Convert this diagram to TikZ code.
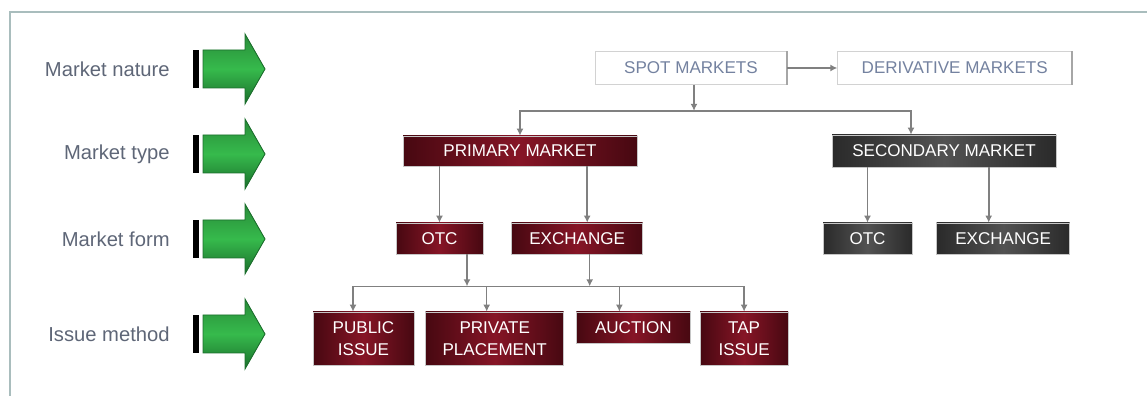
\documentclass[tikz,border=0pt]{standalone}
\usepackage{fontspec}
\setmainfont{Liberation Sans}
\usepackage{xcolor}
\usetikzlibrary{arrows.meta,positioning,calc}
\definecolor{mktred}{HTML}{470811}
\definecolor{mktredmid}{HTML}{861526}
\definecolor{mktgray}{HTML}{2A2A2A}
\definecolor{mktgraymid}{HTML}{525252}
\definecolor{labtxt}{HTML}{5E6677}
\definecolor{nattxt}{HTML}{7482A0}
\definecolor{linegray}{HTML}{808080}
\definecolor{framecol}{HTML}{A9BDBD}
\definecolor{arrgreen}{HTML}{36BA4C}
\definecolor{arrdark}{HTML}{1B6E2C}

\begin{document}
\begin{tikzpicture}[node distance=0.24cm]
        \tikzstyle{lab}=[anchor=east,inner sep=0pt,font=\fontsize{11.5}{13}\selectfont,text=labtxt]
        \tikzstyle{natbox}=[draw=gray!35,fill=white,inner sep=0pt,minimum height=0.66cm,font=\fontsize{9.7}{11}\selectfont,text=nattxt]
        \tikzstyle{pbox}=[draw=gray!45,left color=mktred,right color=mktred,middle color=mktredmid,inner sep=0pt,minimum height=0.62cm,align=center,font=\fontsize{9.7}{12.5}\selectfont,text=white]
        \tikzstyle{sbox}=[draw=gray!45,left color=mktgray,right color=mktgray,middle color=mktgraymid,inner sep=0pt,minimum height=0.62cm,align=center,font=\fontsize{9.7}{12.5}\selectfont,text=white]
        \tikzstyle{link}=[draw=linegray,line width=0.9pt]
        \tikzstyle{feed}=[link,-{Latex[length=1.4mm,width=1.4mm]}]
        \useasboundingbox (0,0) rectangle (22.94,-7.92);
        \draw[framecol,line width=0.8pt] (0.2,-7.92) -- (0.2,-0.24) -- (22.94,-0.24);
        % row labels
        \node[lab] (lnature) at (3.4,-1.38) {Market nature};
        \node[lab] (ltype) at (3.4,-3.08) {Market type};
        \node[lab] (lform) at (3.4,-4.78) {Market form};
        \node[lab] (lissue) at (3.4,-6.68) {Issue method};
        \foreach \n in {lnature,ltype,lform,lissue} {
          \coordinate (a) at ($(\n.east)+(0.46,0)$);
          \fill[black] ($(a)+(0,0.38)$) rectangle ($(a)+(0.12,-0.38)$);
          \draw[arrdark,line width=0.5pt,top color=arrgreen!75!black,bottom color=arrdark,middle color=arrgreen]
            ($(a)+(0.2,0.38)$) -- ++(0.84,0) -- ++(0,0.32) -- ++(0.4,-0.7) -- ++(-0.4,-0.7) -- ++(0,0.32) -- ++(-0.84,0) -- cycle;
        }
        % market nature
        \node[natbox,minimum width=3.84cm] (spot) at (13.82,-1.36) {SPOT MARKETS};
        \node[natbox,minimum width=4.68cm,right=1.0cm of spot] (deriv) {DERIVATIVE MARKETS};
        \draw[gray!70,line width=1pt] (spot.north east) -- (spot.south east);
        \draw[gray!70,line width=1pt] (deriv.north east) -- (deriv.south east);
        % market type
        \node[pbox,minimum width=4.68cm,minimum height=0.6cm] (prim) at (10.4,-3.02) {PRIMARY MARKET};
        \node[sbox,minimum width=4.48cm,minimum height=0.64cm] (sec) at (18.88,-3.02) {SECONDARY MARKET};
        % market form
        \node[pbox,minimum width=1.74cm] (otc1) at (8.79,-4.77) {OTC};
        \node[pbox,minimum width=2.62cm,right=0.56cm of otc1] (exch1) {EXCHANGE};
        \node[sbox,minimum width=1.78cm] (otc2) at (17.35,-4.77) {OTC};
        \node[sbox,minimum width=2.66cm,right=0.48cm of otc2] (exch2) {EXCHANGE};
        % issue method
        \node[pbox,minimum width=2.02cm,minimum height=1.06cm] (public) at (7.27,-6.77) {PUBLIC\\ISSUE};
        \node[pbox,minimum width=2.76cm,minimum height=1.06cm,right=0.22cm of public] (private) {PRIVATE\\PLACEMENT};
        \node[pbox,minimum width=2.28cm,right=0.24cm of private.north east,anchor=north west] (auction) {AUCTION};
        \node[pbox,minimum width=1.76cm,minimum height=1.06cm,right=0.18cm of auction.north east,anchor=north west] (tap) {TAP\\ISSUE};
        % connectors
        \draw[feed] (spot) -- (deriv);
        \coordinate (sj) at ($(spot.south)+(0.06,-0.52)$);
        \draw[feed] (sj |- spot.south) -- (sj);
        \draw[feed] (sj) -| (prim.north);
        \draw[feed] (sj) -| ([xshift=-0.66cm]sec.north);
        \draw[feed] (otc1.north |- prim.south) -- (otc1.north);
        \draw[feed] ([xshift=0.2cm]exch1.north |- prim.south) -- ([xshift=0.2cm]exch1.north);
        \draw[feed] (otc2.north |- sec.south) -- (otc2.north);
        \draw[feed] ([xshift=-0.29cm]exch2.north |- sec.south) -- ([xshift=-0.29cm]exch2.north);
        \coordinate (bus) at ($(otc1.south)+(0,-0.64)$);
        \draw[feed] ([xshift=0.55cm]otc1.south) -- ([xshift=0.55cm]otc1.south |- bus);
        \draw[feed] ([xshift=0.25cm]exch1.south) -- ([xshift=0.25cm]exch1.south |- bus);
        \draw[link] ([xshift=-0.21cm]public.north |- bus) -- (tap.north |- bus);
        \draw[feed] ([xshift=-0.21cm]public.north |- bus) -- ([xshift=-0.21cm]public.north);
        \draw[feed] ([xshift=-0.16cm]private.north |- bus) -- ([xshift=-0.16cm]private.north);
        \draw[feed] ([xshift=-0.28cm]auction.north |- bus) -- ([xshift=-0.28cm]auction.north);
        \draw[feed] (tap.north |- bus) -- (tap.north);
      \end{tikzpicture}
\end{document}
